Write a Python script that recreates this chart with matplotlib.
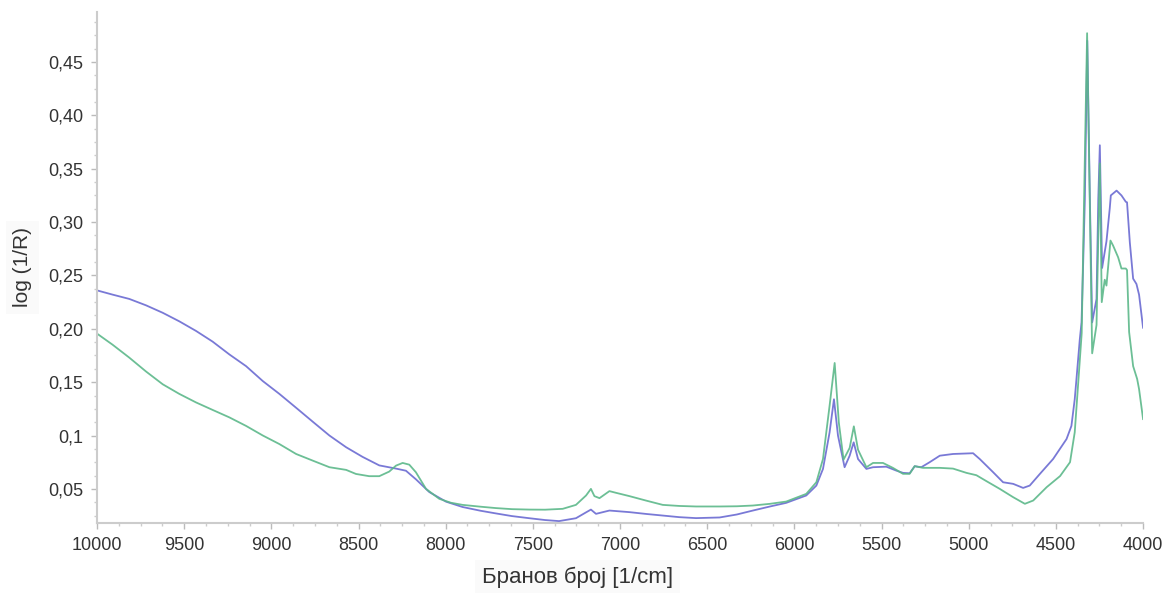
import matplotlib
matplotlib.use("Agg")
import matplotlib.pyplot as plt
from matplotlib.ticker import MultipleLocator, FixedLocator

plt.rcParams['font.family'] = ['Liberation Sans', 'DejaVu Sans']

# spectrum 1 (blue)
wn_blue = [10000, 9910, 9815, 9719, 9623, 9528, 9432, 9337, 9241, 9145, 9049, 8954,
           8858, 8763, 8667, 8571, 8477, 8381, 8285,
           8228, 8171, 8094, 7998, 7903, 7800, 7712, 7620, 7520, 7430, 7350, 7253, 7195, 7167, 7138,
           7061, 6946, 6850, 6755, 6660, 6564, 6429, 6330, 6238, 6140, 6047, 5932, 5874, 5836, 5798, 5773,
           5750, 5712, 5683, 5660, 5635, 5587, 5549, 5473, 5415, 5377, 5339, 5310,
           5272, 5224, 5166, 5090, 4975, 4937, 4860, 4803, 4745, 4688, 4650, 4592,
           4516, 4439, 4411, 4392, 4382, 4363, 4353, 4344, 4334, 4320, 4305, 4292,
           4267, 4257, 4248, 4235, 4210, 4191, 4185, 4152, 4124, 4099, 4092, 4076,
           4057, 4038, 4023, 4000]
val_blue = [0.236, 0.232, 0.228, 0.222, 0.215, 0.207, 0.198, 0.188, 0.176, 0.165, 0.151, 0.139,
            0.126, 0.113, 0.100, 0.089, 0.080, 0.072, 0.069,
            0.067, 0.059, 0.047, 0.038, 0.033, 0.0295, 0.027, 0.0245, 0.0225, 0.0208, 0.0198, 0.0225, 0.028, 0.0306, 0.0266,
            0.0297, 0.0282, 0.0265, 0.025, 0.0235, 0.0226, 0.0232, 0.026, 0.0297, 0.0335, 0.0369, 0.0438, 0.0531, 0.0687, 0.103, 0.134,
            0.100, 0.0703, 0.0811, 0.0936, 0.078, 0.0687, 0.0703, 0.0708, 0.0671, 0.065, 0.0646, 0.0712,
            0.0703, 0.075, 0.0811, 0.0827, 0.0834, 0.078, 0.0656, 0.0562, 0.0547, 0.0509, 0.0531, 0.064,
            0.078, 0.0967, 0.109, 0.134, 0.153, 0.19, 0.206, 0.259, 0.321, 0.470, 0.321, 0.206,
            0.228, 0.321, 0.372, 0.257, 0.282, 0.313, 0.325, 0.3295, 0.325, 0.319, 0.3185, 0.281,
            0.247, 0.242, 0.232, 0.201]

# spectrum 2 (green)
wn_green = [10000, 9910, 9815, 9719, 9623, 9528, 9432, 9337, 9241, 9145, 9049, 8954,
            8858, 8763, 8667, 8571, 8515, 8439, 8381,
            8324, 8285, 8247, 8209, 8171, 8113, 8037, 7970, 7903, 7800, 7712, 7620, 7520, 7430, 7329, 7253,
            7195, 7167, 7147, 7118, 7061, 7023, 6946, 6850, 6755, 6660, 6564, 6429, 6330, 6238, 6140, 6047,
            5932, 5874, 5836, 5798, 5769, 5745, 5718, 5683, 5659, 5635, 5587, 5549,
            5492, 5435, 5377, 5339, 5310, 5262, 5166, 5090, 5013, 4956, 4898, 4822,
            4745, 4678, 4630, 4553, 4476, 4419, 4392, 4373, 4352, 4343, 4321, 4292,
            4267, 4255, 4248, 4237, 4220, 4210, 4187, 4172, 4143, 4124, 4099, 4092,
            4080, 4057, 4034, 4023, 4000]
val_green = [0.1955, 0.185, 0.173, 0.160, 0.148, 0.139, 0.131, 0.124, 0.117, 0.109, 0.100, 0.092,
             0.0827, 0.0765, 0.0703, 0.0678, 0.064, 0.0619, 0.0619,
             0.0662, 0.0718, 0.0743, 0.0727, 0.0656, 0.050, 0.0407, 0.037, 0.035, 0.0333, 0.032, 0.031, 0.0306, 0.0305, 0.0313, 0.035,
             0.0438, 0.050, 0.0432, 0.0413, 0.0479, 0.0463, 0.0432, 0.039, 0.035, 0.034, 0.0335, 0.0335, 0.0337, 0.0344, 0.036, 0.0381,
             0.0453, 0.0562, 0.078, 0.128, 0.168, 0.112, 0.0774, 0.0884, 0.1086, 0.0867, 0.0703, 0.0743,
             0.0743, 0.0697, 0.0641, 0.0641, 0.0713, 0.0697, 0.0697, 0.069, 0.065, 0.0628, 0.0572, 0.050,
             0.0422, 0.036, 0.0391, 0.0516, 0.062, 0.075, 0.103, 0.147, 0.196, 0.28, 0.477, 0.177,
             0.2036, 0.30, 0.355, 0.225, 0.246, 0.2405, 0.2827, 0.278, 0.267, 0.2565, 0.2565, 0.255,
             0.197, 0.165, 0.153, 0.1435, 0.1154]

y_ticks = [0.05, 0.10, 0.15, 0.20, 0.25, 0.30, 0.35, 0.40, 0.45]
y_ticklabels = ['0,05', '0,1', '0,15', '0,20', '0,25', '0,30', '0,35', '0,40', '0,45']
x_ticks = [10000, 9500, 9000, 8500, 8000, 7500, 7000, 6500, 6000, 5500, 5000, 4500, 4000]

fig = plt.figure(figsize=(11.76, 5.93), dpi=100)
ax = fig.add_axes([0.0825, 0.118, 0.8895, 0.862])

ax.plot(wn_blue, val_blue, color='#6b6bd2', lw=1.3, alpha=0.9)
ax.plot(wn_green, val_green, color='#5cb88a', lw=1.3, alpha=0.9)

ax.set_xlim(10000, 4000)
ax.set_ylim(0.018, 0.497)

ax.xaxis.set_major_locator(FixedLocator(x_ticks))
ax.xaxis.set_minor_locator(MultipleLocator(125))
ax.set_xticklabels([str(t) for t in x_ticks])
ax.yaxis.set_major_locator(FixedLocator(y_ticks))
ax.yaxis.set_minor_locator(MultipleLocator(0.0125))
ax.set_yticklabels(y_ticklabels)

for s in ['top', 'right']:
    ax.spines[s].set_visible(False)
for s in ['left', 'bottom']:
    ax.spines[s].set_color('#cccccc')
    ax.spines[s].set_linewidth(1.5)

ax.tick_params(which='major', length=4, width=1, color='#bbbbbb', labelsize=13,
               labelcolor='#333333', pad=6)
ax.tick_params(which='minor', length=2.5, width=1, color='#cccccc')

ax.set_xlabel('Бранов број [1/cm]', fontsize=16, color='#333333',
              bbox=dict(facecolor='#fafafa', edgecolor='none', pad=5))
ax.xaxis.set_label_coords(0.459, -0.085)
ax.set_ylabel('log (1/R)', fontsize=15, color='#333333',
              bbox=dict(facecolor='#fafafa', edgecolor='none', pad=5))
ax.yaxis.set_label_coords(-0.062, 0.5)

fig.savefig('out.png', dpi=100)
